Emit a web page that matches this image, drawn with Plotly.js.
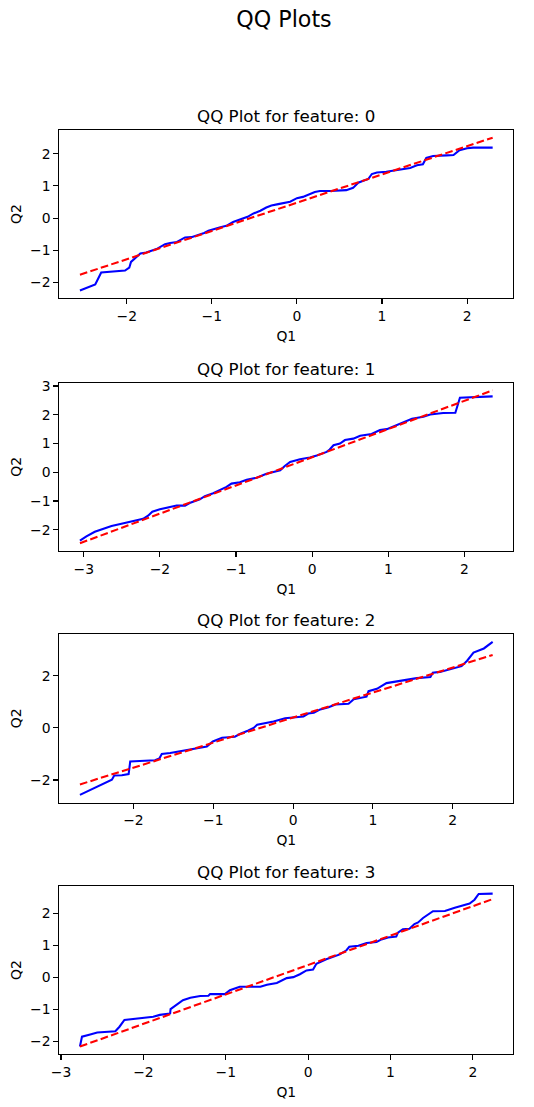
<!DOCTYPE html>
<html>
<head>
<meta charset="utf-8">
<script src="https://cdn.plot.ly/plotly-3.0.1.min.js"></script>
<style>html,body{margin:0;padding:0;background:#fff;}</style>
</head>
<body>
<div id="chart" style="width:534px;height:1107px;"></div>
<script>
// ---------------- DATA ----------------
const suptitle = "QQ Plots";
const featureNames = ["0", "1", "2", "3"];
const xLabel = "Q1";
const yLabel = "Q2";

// Feature 0
const q1_f0 = [-2.55,-2.37,-2.30,-2.02,-1.97,-1.95,-1.84,-1.77,-1.65,-1.55,-1.49,-1.41,-1.315,-1.24,-1.09,-1.04,-0.90,-0.83,-0.75,-0.67,-0.58,-0.51,-0.43,-0.36,-0.30,-0.22,-0.08,0.0,0.07,0.21,0.27,0.39,0.47,0.58,0.66,0.72,0.78,0.84,0.88,0.94,1.05,1.19,1.33,1.41,1.48,1.52,1.60,1.76,1.84,1.91,2.00,2.07,2.30];
const q2_f0 = [-2.25,-2.06,-1.69,-1.63,-1.54,-1.36,-1.10,-1.07,-0.96,-0.81,-0.77,-0.74,-0.60,-0.59,-0.46,-0.39,-0.28,-0.24,-0.12,-0.04,0.04,0.145,0.23,0.33,0.39,0.435,0.51,0.62,0.66,0.81,0.84,0.84,0.85,0.87,0.94,1.10,1.16,1.22,1.37,1.42,1.44,1.50,1.56,1.64,1.67,1.87,1.93,1.95,1.96,2.11,2.17,2.19,2.19];
const refQ1_f0 = [-2.55, 2.30];
const refQ2_f0 = [-1.76, 2.50];

// Feature 1
const q1_f1 = [-3.05,-2.965,-2.855,-2.745,-2.635,-2.505,-2.35,-2.22,-2.155,-2.10,-2.00,-1.87,-1.78,-1.67,-1.61,-1.475,-1.41,-1.30,-1.19,-1.125,-1.06,-0.95,-0.86,-0.73,-0.60,-0.51,-0.42,-0.36,-0.29,-0.16,-0.03,0.06,0.19,0.23,0.28,0.365,0.43,0.54,0.63,0.78,0.89,0.98,1.07,1.22,1.31,1.46,1.55,1.72,1.88,1.94,2.12,2.37];
const q2_f1 = [-2.38,-2.23,-2.07,-1.97,-1.87,-1.79,-1.71,-1.62,-1.51,-1.37,-1.29,-1.20,-1.16,-1.16,-1.07,-0.94,-0.83,-0.73,-0.60,-0.51,-0.395,-0.35,-0.26,-0.19,-0.05,0.0,0.07,0.22,0.36,0.45,0.51,0.58,0.71,0.79,0.94,1.0,1.12,1.17,1.27,1.33,1.47,1.50,1.60,1.78,1.86,1.93,2.01,2.06,2.07,2.59,2.62,2.64];
const refQ1_f1 = [-3.05, 2.37];
const refQ2_f1 = [-2.47, 2.85];

// Feature 2
const q1_f2 = [-2.67,-2.50,-2.335,-2.27,-2.24,-2.145,-2.06,-2.04,-1.92,-1.73,-1.675,-1.645,-1.54,-1.415,-1.27,-1.16,-1.08,-1.005,-0.89,-0.73,-0.66,-0.56,-0.495,-0.45,-0.37,-0.245,-0.10,0.0,0.13,0.19,0.26,0.34,0.445,0.53,0.695,0.76,0.86,0.92,0.945,1.05,1.17,1.28,1.42,1.55,1.72,1.75,1.84,1.99,2.11,2.18,2.26,2.39,2.50];
const q2_f2 = [-2.57,-2.32,-2.10,-1.99,-1.83,-1.82,-1.77,-1.29,-1.27,-1.24,-1.17,-1.0,-0.96,-0.89,-0.83,-0.74,-0.71,-0.52,-0.38,-0.34,-0.225,-0.10,0.0,0.12,0.17,0.25,0.37,0.39,0.44,0.55,0.58,0.71,0.79,0.90,0.93,1.10,1.16,1.20,1.41,1.50,1.72,1.78,1.83,1.91,1.95,2.12,2.15,2.26,2.37,2.58,2.89,3.05,3.30];
const refQ1_f2 = [-2.67, 2.50];
const refQ2_f2 = [-2.17, 2.80];

// Feature 3
const q1_f3 = [-2.77,-2.745,-2.645,-2.56,-2.34,-2.29,-2.23,-2.04,-1.88,-1.80,-1.675,-1.67,-1.60,-1.52,-1.43,-1.31,-1.21,-1.19,-1.01,-0.95,-0.83,-0.58,-0.50,-0.38,-0.26,-0.18,-0.10,-0.02,0.06,0.10,0.22,0.30,0.385,0.465,0.50,0.61,0.71,0.83,0.89,0.97,1.07,1.09,1.15,1.23,1.29,1.335,1.395,1.515,1.66,1.78,1.90,1.96,2.02,2.07,2.24];
const q2_f3 = [-2.16,-1.85,-1.78,-1.72,-1.68,-1.54,-1.33,-1.28,-1.23,-1.17,-1.125,-0.99,-0.865,-0.71,-0.635,-0.58,-0.57,-0.52,-0.52,-0.40,-0.29,-0.29,-0.23,-0.17,-0.02,0.01,0.10,0.22,0.25,0.43,0.57,0.65,0.72,0.85,0.96,0.99,1.08,1.11,1.19,1.25,1.28,1.40,1.51,1.52,1.67,1.72,1.86,2.07,2.08,2.18,2.26,2.31,2.43,2.61,2.62];
const refQ1_f3 = [-2.77, 2.24];
const refQ2_f3 = [-2.16, 2.45];

const xTicks = [[-2,-1,0,1,2],[-3,-2,-1,0,1,2],[-2,-1,0,1,2],[-3,-2,-1,0,1,2]];
const yTicks = [[-2,-1,0,1,2],[-2,-1,0,1,2,3],[-2,0,2],[-2,-1,0,1,2]];

// ---------------- LAYOUT ----------------
const W = 534, H = 1107;
const FONT = "DejaVu Sans, sans-serif";
const axLeft = 59.3, axRight = 513.3;
const axTops = [130, 382.7, 634.3, 886];
const axH = 168.2;

const Q1s = [q1_f0, q1_f1, q1_f2, q1_f3];
const Q2s = [q2_f0, q2_f1, q2_f2, q2_f3];
const R1s = [refQ1_f0, refQ1_f1, refQ1_f2, refQ1_f3];
const R2s = [refQ2_f0, refQ2_f1, refQ2_f2, refQ2_f3];

function padRange(arrs) {
  let mn = Infinity, mx = -Infinity;
  arrs.forEach(a => a.forEach(v => { if (v < mn) mn = v; if (v > mx) mx = v; }));
  const p = (mx - mn) * 0.05;
  return [mn - p, mx + p];
}

const traces = [];
const layout = {
  width: W, height: H,
  margin: {l: 0, r: 0, t: 0, b: 0},
  paper_bgcolor: "#ffffff",
  plot_bgcolor: "#ffffff",
  showlegend: false,
  font: {family: FONT, color: "#000000", size: 13.9},
  title: {
    text: suptitle,
    font: {family: FONT, size: 22.2, color: "#000000"},
    x: 284 / W, xanchor: "center",
    y: 1 - 19 / H, yanchor: "middle",
    xref: "paper", yref: "container"
  },
  annotations: []
};

for (let i = 0; i < 4; i++) {
  const sfx = i === 0 ? "" : String(i + 1);
  const xa = "x" + sfx, ya = "y" + sfx;
  traces.push({
    x: Q1s[i], y: Q2s[i], xaxis: xa, yaxis: ya,
    type: "scatter", mode: "lines",
    line: {color: "#0000ff", width: 2.08}
  });
  traces.push({
    x: R1s[i], y: R2s[i], xaxis: xa, yaxis: ya,
    type: "scatter", mode: "lines",
    line: {color: "#ff0000", width: 2.08, dash: "7.7px,3.3px"}
  });
  const top = axTops[i];
  const yDom = [1 - (top + axH) / H, 1 - top / H];
  const common = {
    showline: true, mirror: true, linecolor: "#000000", linewidth: 1.1,
    ticks: "outside", ticklen: 4.9, tickwidth: 1.1, tickcolor: "#000000",
    showgrid: false, zeroline: false,
    tickfont: {family: FONT, size: 13.9, color: "#000000"},
    tickmode: "array"
  };
  layout["xaxis" + sfx] = Object.assign({}, common, {
    domain: [axLeft / W, axRight / W],
    anchor: ya,
    range: padRange([Q1s[i], R1s[i]]),
    tickvals: xTicks[i],
    title: {text: xLabel, font: {family: FONT, size: 13.9, color: "#000000"}, standoff: 8}
  });
  layout["yaxis" + sfx] = Object.assign({}, common, {
    domain: yDom,
    anchor: xa,
    range: padRange([Q2s[i], R2s[i]]),
    tickvals: yTicks[i],
    title: {text: yLabel, font: {family: FONT, size: 13.9, color: "#000000"}, standoff: 5}
  });
  layout.annotations.push({
    text: "QQ Plot for feature: " + featureNames[i],
    xref: "paper", yref: "paper",
    x: (axLeft + axRight) / 2 / W, xanchor: "center",
    y: yDom[1], yanchor: "bottom", yshift: 2,
    showarrow: false,
    font: {family: FONT, size: 16.7, color: "#000000"}
  });
}

Plotly.newPlot("chart", traces, layout, {displayModeBar: false, staticPlot: true});
</script>
</body>
</html>
